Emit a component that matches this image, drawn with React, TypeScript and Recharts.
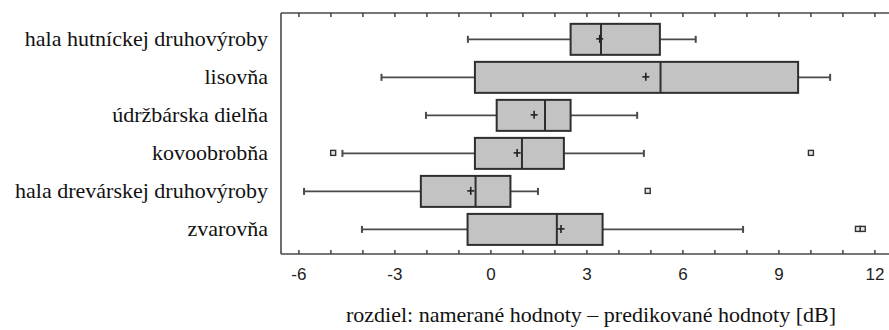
import React from 'react'
import {
  ComposedChart,
  Bar,
  Scatter,
  XAxis,
  YAxis,
  Label,
} from 'recharts'

// categories, top to bottom
const categories = [
  'hala hutníckej druhovýroby',
  'lisovňa',
  'údržbárska dielňa',
  'kovoobrobňa',
  'hala drevárskej druhovýroby',
  'zvarovňa',
]

// box plot statistics per category [dB]
const whiskerLow = [-0.72, -3.42, -2.03, -4.64, -5.84, -4.03]
const q1 = [2.49, -0.5, 0.18, -0.5, -2.19, -0.73]
const median = [3.44, 5.3, 1.69, 0.97, -0.48, 2.06]
const q3 = [5.28, 9.6, 2.49, 2.28, 0.61, 3.49]
const whiskerHigh = [6.4, 10.6, 4.57, 4.78, 1.47, 7.88]
const mean = [3.4, 4.84, 1.35, 0.82, -0.63, 2.19]

// outliers: category index (1-based) and value
const outlierRow = [4, 4, 5, 6, 6]
const outlierValue = [-4.93, 10.0, 4.9, 11.47, 11.62]

const majorTicks = [-6, -3, 0, 3, 6, 9, 12]
const minorTicks = [-6, -5, -4, -3, -2, -1, 0, 1, 2, 3, 4, 5, 6, 7, 8, 9, 10, 11, 12]
const rowTicks = [1, 2, 3, 4, 5, 6]

const xDomain = [-6.56, 12.44]
const yDomain = [0.32, 6.66]

const data = categories.map((name, i) => ({
  pos: i + 1,
  name,
  whisker: [whiskerLow[i], whiskerHigh[i]],
  box: [q1[i], q3[i]],
  med: [q1[i], median[i]],
}))

const meanData = categories.map((_, i) => ({ pos: i + 1, v: mean[i] }))
const outlierData = outlierRow.map((r, i) => ({ pos: r, v: outlierValue[i] }))

const frame = '#4a4a4a'
const serif = 'Liberation Serif, Times New Roman, serif'

const WhiskerShape = (props: any) => {
  const { x, y, width, height } = props
  const cy = y + height / 2
  return (
    <g stroke="#4a4a4a" strokeWidth={1.6}>
      <line x1={x} x2={x + width} y1={cy} y2={cy} />
      <line x1={x} x2={x} y1={cy - 3.5} y2={cy + 3.5} strokeWidth={2} />
      <line x1={x + width} x2={x + width} y1={cy - 3.5} y2={cy + 3.5} strokeWidth={2} />
    </g>
  )
}

const BoxShape = (props: any) => {
  const { x, y, width, height } = props
  return <rect x={x} y={y} width={width} height={height} fill="#c3c3c3" stroke="#2e2e2e" strokeWidth={2} />
}

const MedianShape = (props: any) => {
  const { x, y, width, height } = props
  return <line x1={x + width} x2={x + width} y1={y} y2={y + height} stroke="#2e2e2e" strokeWidth={2} />
}

const MeanShape = (props: any) => {
  const { cx, cy } = props
  return (
    <g stroke="#222" strokeWidth={1.6}>
      <line x1={cx - 3.5} x2={cx + 3.5} y1={cy} y2={cy} />
      <line x1={cx} x2={cx} y1={cy - 4} y2={cy + 4} />
    </g>
  )
}

const OutlierShape = (props: any) => {
  const { cx, cy } = props
  return <rect x={cx - 2.5} y={cy - 2.5} width={5} height={5} fill="#e8e8e8" stroke="#333" strokeWidth={1.4} />
}

const NoShape = () => <g />
const NoTick = () => <g />

const RowTick = (props: any) => {
  const { x, y, payload } = props
  return (
    <text
      x={x}
      y={y}
      dy="0.33em"
      textAnchor="end"
      fontFamily={serif}
      fontSize={22}
      fill="#111"
    >
      {categories[payload.value - 1]}
    </text>
  )
}

export default function App() {
  return (
    <div style={{ position: 'absolute', left: 0, top: 0, background: '#fff' }}>
      <ComposedChart
        width={889}
        height={330}
        data={data}
        layout="vertical"
        margin={{ top: 13, right: 0, bottom: 0, left: 0 }}
        barGap={-31}
      >
        <XAxis
          type="number"
          domain={xDomain}
          allowDataOverflow
          ticks={majorTicks}
          height={76}
          tickLine={false}
          tickSize={0}
          tickMargin={14}
          axisLine={{ stroke: frame, strokeWidth: 1.6 }}
          tick={{ fontFamily: 'Liberation Sans, Arial, sans-serif', fontSize: 17, fill: '#222' }}
        >
          <Label
            value="rozdiel: namerané hodnoty – predikované hodnoty [dB]"
            position="insideBottom"
            offset={8}
            dx={6}
            fontFamily={serif}
            fontSize={22}
            fill="#111"
          />
        </XAxis>
        <XAxis
          xAxisId="minor"
          type="number"
          domain={xDomain}
          allowDataOverflow
          ticks={minorTicks}
          mirror
          height={1}
          tick={NoTick}
          tickSize={4}
          axisLine={false}
          tickLine={{ stroke: '#333', strokeWidth: 1.4 }}
        />
        <XAxis
          xAxisId="top"
          orientation="top"
          type="number"
          domain={xDomain}
          allowDataOverflow
          ticks={minorTicks}
          mirror
          height={1}
          tick={NoTick}
          tickSize={4}
          axisLine={{ stroke: frame, strokeWidth: 1.6 }}
          tickLine={{ stroke: '#333', strokeWidth: 1.4 }}
        />
        <YAxis
          type="number"
          dataKey="pos"
          domain={yDomain}
          allowDataOverflow
          ticks={rowTicks}
          width={281}
          tickLine={false}
          tickSize={0}
          tickMargin={13}
          axisLine={{ stroke: frame, strokeWidth: 1.6 }}
          tick={<RowTick />}
        />
        <Bar dataKey="whisker" barSize={31} shape={<WhiskerShape />} isAnimationActive={false} />
        <Bar dataKey="box" barSize={31} shape={<BoxShape />} isAnimationActive={false} />
        <Bar dataKey="med" barSize={31} shape={<MedianShape />} isAnimationActive={false} />
        <Scatter data={meanData} dataKey="v" shape={<MeanShape />} isAnimationActive={false} />
        <Scatter data={outlierData} dataKey="v" shape={<OutlierShape />} isAnimationActive={false} />
        <Scatter xAxisId="top" data={meanData} dataKey="v" shape={<NoShape />} isAnimationActive={false} />
        <Scatter xAxisId="minor" data={meanData} dataKey="v" shape={<NoShape />} isAnimationActive={false} />
      </ComposedChart>
    </div>
  )
}
